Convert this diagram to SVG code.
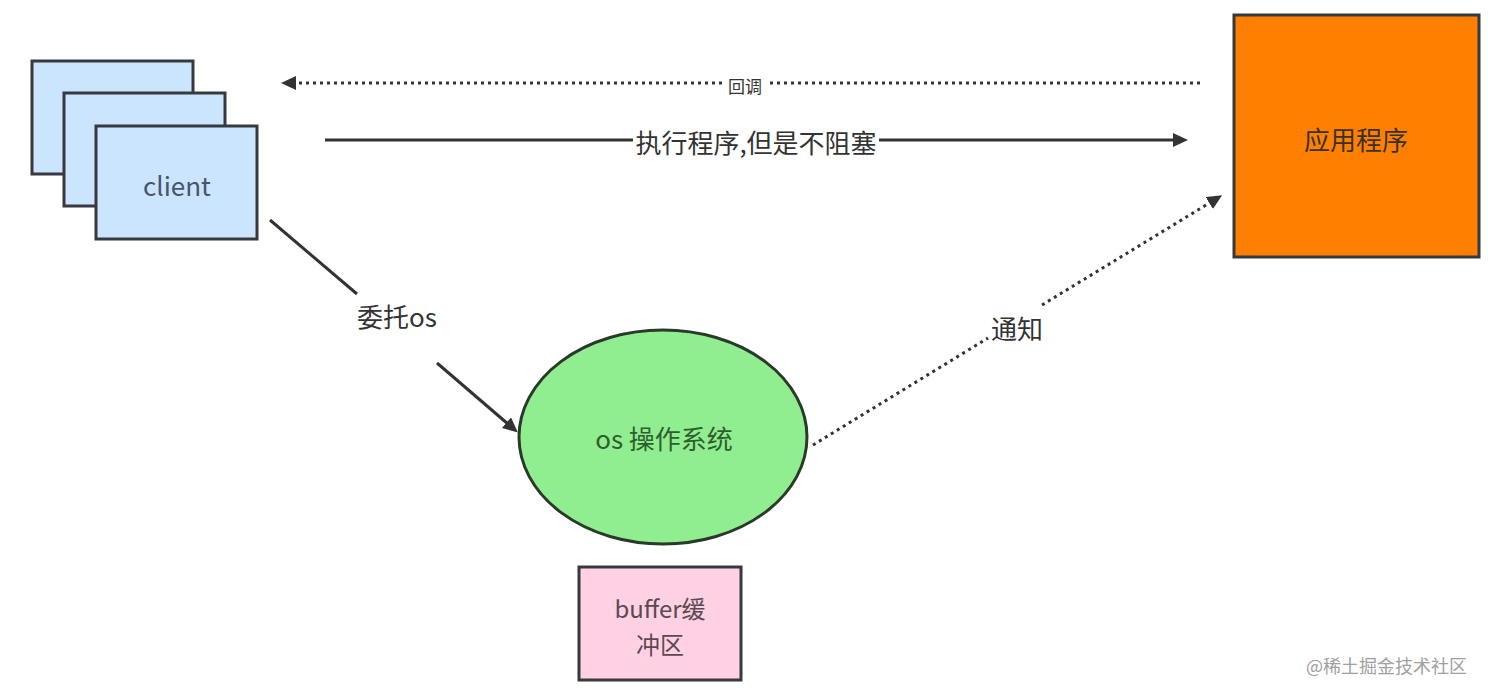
<svg xmlns="http://www.w3.org/2000/svg" width="1488" height="697" viewBox="0 0 1488 697">
  <style>
    .lbl { font-family: "Noto Sans CJK SC", "Noto Sans", sans-serif; text-anchor: middle; dominant-baseline: central; }
    .node { stroke: #36393d; stroke-width: 3; }
    .conn { fill: none; stroke: #333333; stroke-width: 3; }
    .dot { stroke-dasharray: 3 4; }
  </style>
  <defs>
    <marker id="arrow" markerUnits="userSpaceOnUse" markerWidth="18" markerHeight="16" refX="2" refY="7" orient="auto">
      <path d="M0,0 L15,7 L0,14 z" fill="#333333"/>
    </marker>
  </defs>
  <rect width="1488" height="697" fill="#ffffff"/>

  <g id="client">
    <rect class="node" x="32" y="61" width="161" height="113" fill="#cce5ff"/>
    <rect class="node" x="64" y="93" width="161" height="113" fill="#cce5ff"/>
    <rect class="node" x="96" y="126" width="161" height="113" fill="#cce5ff"/>
    <text class="lbl" x="177" y="184" font-size="26" fill="#44576e">client</text>
  </g>

  <g id="app">
    <rect class="node" x="1234" y="15" width="245" height="242" fill="#ff8000"/>
    <text class="lbl" x="1356" y="138" font-size="26" fill="#3a3028">应用程序</text>
  </g>

  <g id="os">
    <ellipse cx="663" cy="437" rx="144" ry="107" fill="#90ee90" stroke="#2a3a2a" stroke-width="3"/>
    <text class="lbl" x="664" y="437" font-size="26" fill="#2e5e2e">os 操作系统</text>
  </g>

  <g id="buffer">
    <rect class="node" x="579" y="567" width="162" height="113" fill="#ffd1e3"/>
    <text class="lbl" x="660" y="607" font-size="24" fill="#5a4a52">buffer缓</text>
    <text class="lbl" x="660" y="643" font-size="24" fill="#5a4a52">冲区</text>
  </g>

  <g id="connectors">
    <!-- callback -->
    <path class="conn dot" d="M1200,83 L768,83"/>
    <path class="conn dot" d="M722,83 L294,83" marker-end="url(#arrow)"/>
    <text class="lbl" x="745" y="85" font-size="17" fill="#333333">回调</text>

    <!-- execute -->
    <path class="conn" d="M325,140 L1175,140" marker-end="url(#arrow)"/>
    <rect x="633" y="124" width="246" height="32" fill="#ffffff"/>
    <text class="lbl" x="756" y="141" font-size="26" fill="#333333">执行程序,但是不阻塞</text>

    <!-- delegate -->
    <path class="conn" d="M270,220 L357,294"/>
    <path class="conn" d="M437,363 L508,424" marker-end="url(#arrow)"/>
    <text class="lbl" x="397" y="315" font-size="26" fill="#333333">委托os</text>

    <!-- notify -->
    <path class="conn dot" d="M813,445 L988,338"/>
    <path class="conn dot" d="M1042,305 L1211,202" marker-end="url(#arrow)"/>
    <text class="lbl" x="1017" y="327" font-size="26" fill="#333333">通知</text>
  </g>

  <text x="1467" y="665" font-family="Noto Sans CJK SC, sans-serif" font-size="18" fill="#a0a0a0" text-anchor="end" dominant-baseline="central">@稀土掘金技术社区</text>
</svg>
